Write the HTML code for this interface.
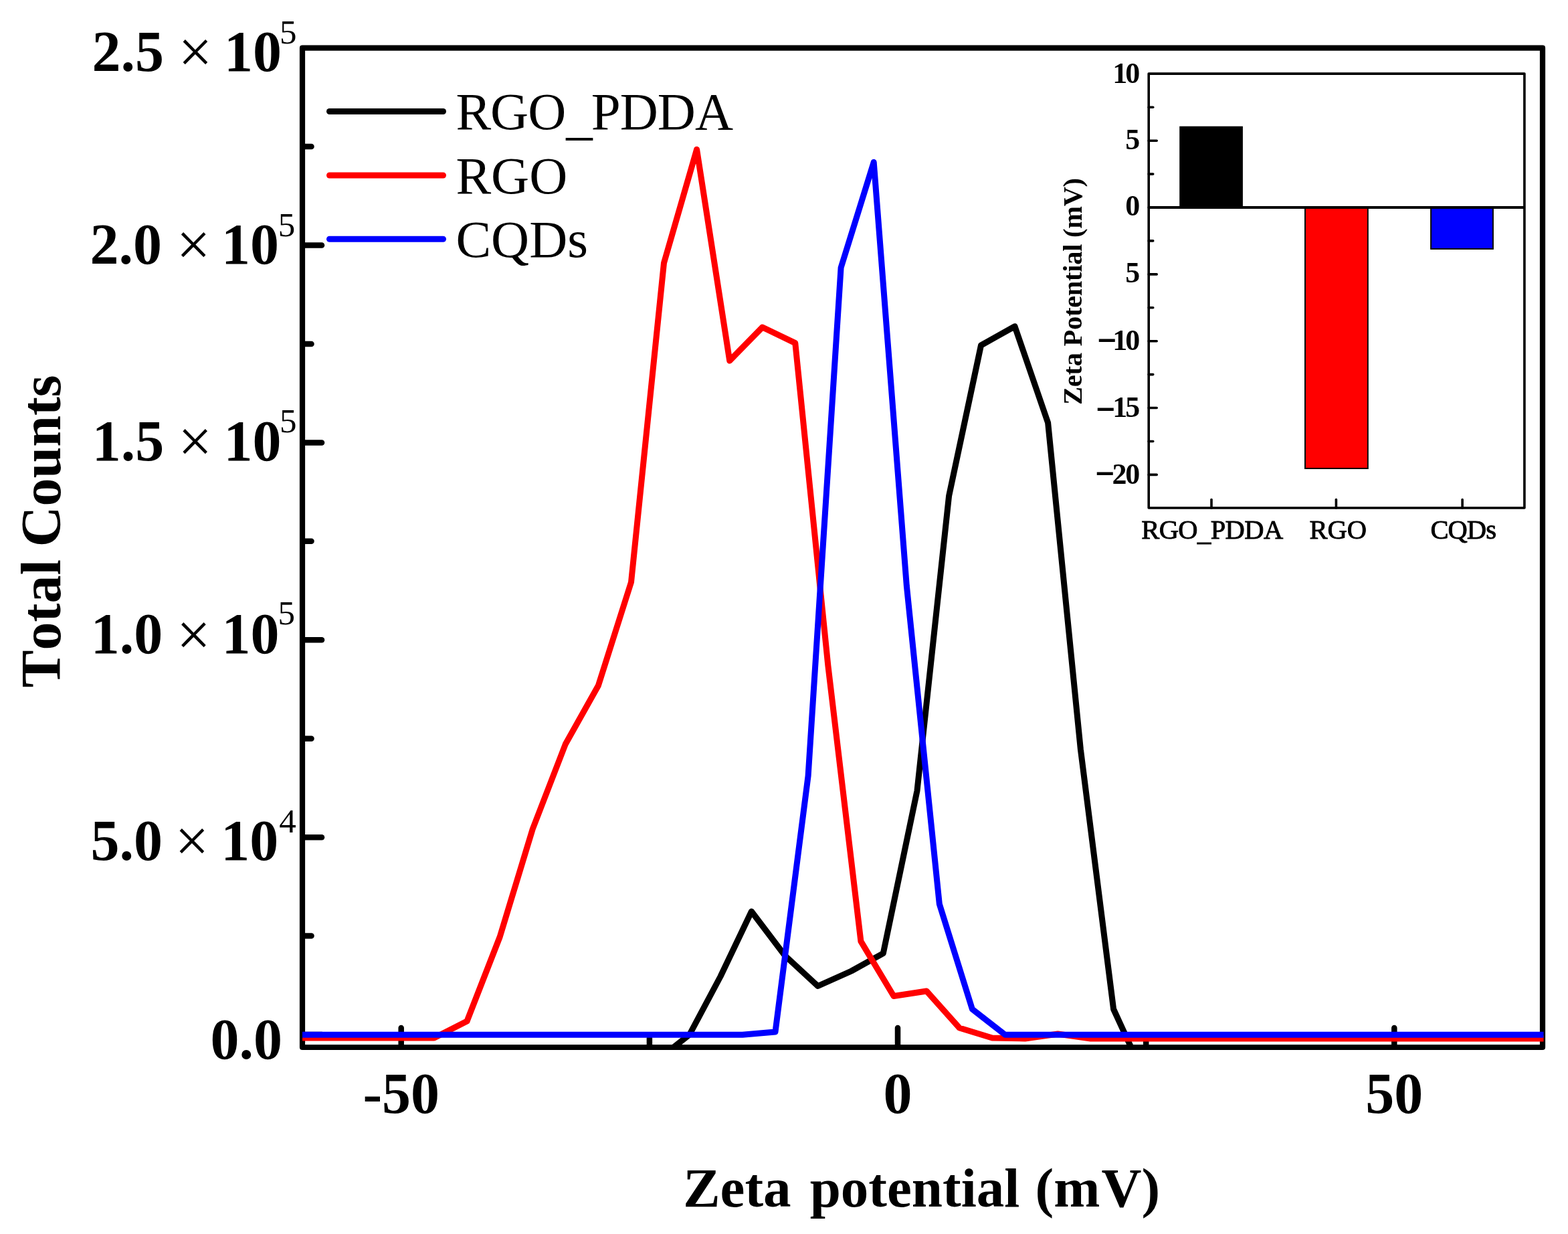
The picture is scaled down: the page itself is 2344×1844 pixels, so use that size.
<!DOCTYPE html>
<html><head><meta charset="utf-8"><title>Zeta potential</title>
<style>
html,body{margin:0;padding:0;background:#fff;overflow:hidden;}
svg{display:block;}
text{font-family:"Liberation Serif","Times New Roman",serif;fill:#000;font-kerning:none;}
.b{font-weight:bold;}
</style></head><body>
<svg width="2344" height="1844" viewBox="0 0 2344 1844">
<rect x="0" y="0" width="2344" height="1844" fill="#fff"/>
<defs><clipPath id="pc"><rect x="452" y="71.7" width="1855.5" height="1493.3"/></clipPath></defs>
<rect x="452" y="71.7" width="1854" height="1493.3" fill="none" stroke="#000" stroke-width="8.2" stroke-linejoin="round"/>
<g stroke="#000" stroke-width="8.5" stroke-linecap="round"><line x1="453" y1="1546.1" x2="481" y2="1546.1"/><line x1="453" y1="1398.6" x2="465.5" y2="1398.6"/><line x1="453" y1="1251.2" x2="481" y2="1251.2"/><line x1="453" y1="1103.8" x2="465.5" y2="1103.8"/><line x1="453" y1="956.3" x2="481" y2="956.3"/><line x1="453" y1="808.8" x2="465.5" y2="808.8"/><line x1="453" y1="661.4" x2="481" y2="661.4"/><line x1="453" y1="514.0" x2="465.5" y2="514.0"/><line x1="453" y1="366.5" x2="481" y2="366.5"/><line x1="453" y1="219.0" x2="465.5" y2="219.0"/><line x1="599.7" y1="1564" x2="599.7" y2="1536"/><line x1="1342.0" y1="1564" x2="1342.0" y2="1536"/><line x1="2084.3" y1="1564" x2="2084.3" y2="1536"/><line x1="970.9" y1="1564" x2="970.9" y2="1551.5"/><line x1="1713.2" y1="1564" x2="1713.2" y2="1551.5"/></g>
<g clip-path="url(#pc)" fill="none" stroke-width="9" stroke-linejoin="round">
<polyline stroke="#000" points="981.6,1585.0 1030.8,1546.0 1077.1,1459.0 1123.4,1362.0 1173.4,1428.0 1222.6,1473.5 1272.8,1451.0 1320.3,1424.6 1371.0,1181.6 1418.6,741.0 1466.5,516.0 1517.0,487.7 1566.6,631.8 1615.4,1120.0 1664.6,1508.0 1713.8,1615.0"/>
<polyline stroke="#f00" points="430.0,1551.0 649.0,1551.0 698.1,1526.0 747.2,1400.0 796.2,1239.0 845.3,1112.0 894.4,1024.5 943.5,870.0 992.5,393.0 1041.6,223.3 1090.7,539.0 1139.7,489.0 1188.8,512.6 1237.9,995.0 1286.9,1406.6 1336.0,1488.5 1385.1,1481.0 1434.2,1536.0 1483.2,1551.0 1532.3,1552.0 1581.4,1545.0 1630.4,1552.0 2330.0,1552.0"/>
<polyline stroke="#00f" points="430.0,1546.3 1109.9,1546.3 1159.0,1542.0 1208.1,1159.5 1257.1,400.0 1306.2,242.3 1355.3,875.0 1404.3,1350.8 1453.4,1508.0 1502.5,1546.3 2330.0,1546.3"/>
</g>
<text class="b" x="137.4" y="106.1" font-size="86">2.5</text><text x="266.5" y="107.9" font-size="90">×</text><text class="b" x="335.0" y="106.1" font-size="86">10</text><text x="418.0" y="65.0" font-size="51">5</text>
<text class="b" x="134.6" y="393.8" font-size="86">2.0</text><text x="263.8" y="395.6" font-size="90">×</text><text class="b" x="330.9" y="393.8" font-size="86">10</text><text x="415.7" y="352.7" font-size="51">5</text>
<text class="b" x="137.7" y="687.6" font-size="86">1.5</text><text x="266.3" y="689.6" font-size="90">×</text><text class="b" x="334.4" y="687.6" font-size="86">10</text><text x="417.9" y="646.3" font-size="51">5</text>
<text class="b" x="135.8" y="976.1" font-size="86">1.0</text><text x="263.9" y="978.5" font-size="90">×</text><text class="b" x="331.4" y="976.1" font-size="86">10</text><text x="415.6" y="933.2" font-size="51">5</text>
<text class="b" x="135.4" y="1284.7" font-size="86">5.0</text><text x="261.5" y="1286.6" font-size="90">×</text><text class="b" x="330.2" y="1284.7" font-size="86">10</text><text x="417.2" y="1243.6" font-size="51">4</text>
<text class="b" x="314.4" y="1582.1" font-size="86">0.0</text>
<text class="b" x="599.7" y="1663.1" font-size="86" text-anchor="middle">-50</text>
<text class="b" x="1342.0" y="1663.1" font-size="86" text-anchor="middle">0</text>
<text class="b" x="2084.3" y="1663.1" font-size="86" text-anchor="middle">50</text>
<text class="b" x="1021.2" y="1803" font-size="83">Zeta</text>
<text class="b" x="1210.7" y="1803" font-size="83">potential</text>
<text class="b" x="1547.6" y="1803" font-size="83">(m</text>
<text class="b" x="1646.6" y="1803" font-size="83">V)</text>
<text class="b" transform="translate(89.9,1027.5) rotate(-90)" x="0" y="0" font-size="84">Total</text>
<text class="b" transform="translate(89.9,817.2) rotate(-90)" x="0" y="0" font-size="84">Counts</text>
<line x1="492.5" y1="166.5" x2="662.5" y2="166.5" stroke="#000" stroke-width="9" stroke-linecap="round"/><text x="681.4" y="193.4" font-size="79" textLength="414.6" lengthAdjust="spacing">RGO<tspan dy="6.5" dx="1">_</tspan><tspan dy="-6.5" dx="-1">PDDA</tspan></text>
<line x1="492.5" y1="262" x2="662.5" y2="262" stroke="#f00" stroke-width="9" stroke-linecap="round"/><text x="681.4" y="289.2" font-size="79">RGO</text>
<line x1="492.5" y1="357.2" x2="662.5" y2="357.2" stroke="#00f" stroke-width="9" stroke-linecap="round"/><text x="681.4" y="384" font-size="79">CQDs</text>
<rect x="1764.2" y="189.7" width="92.7" height="121.3" fill="#000" stroke="#000" stroke-width="2"/>
<rect x="1951.0" y="309.0" width="93.8" height="391.0" fill="#f00" stroke="#000" stroke-width="2"/>
<rect x="2139.1" y="309.0" width="92.8" height="62.9" fill="#00f" stroke="#000" stroke-width="2"/>
<line x1="1717.2" y1="310.0" x2="2278.9" y2="310.0" stroke="#000" stroke-width="4"/>
<rect x="1717.2" y="110.1" width="561.7" height="648.9" fill="none" stroke="#000" stroke-width="3.6" stroke-linejoin="round"/>
<g stroke="#000" stroke-width="3.6" stroke-linecap="round"><line x1="1717.2" y1="709.4" x2="1729.2" y2="709.4"/><line x1="1717.2" y1="659.5" x2="1723.7" y2="659.5"/><line x1="1717.2" y1="609.5" x2="1729.2" y2="609.5"/><line x1="1717.2" y1="559.6" x2="1723.7" y2="559.6"/><line x1="1717.2" y1="509.7" x2="1729.2" y2="509.7"/><line x1="1717.2" y1="459.8" x2="1723.7" y2="459.8"/><line x1="1717.2" y1="409.9" x2="1729.2" y2="409.9"/><line x1="1717.2" y1="359.9" x2="1723.7" y2="359.9"/><line x1="1717.2" y1="310.0" x2="1729.2" y2="310.0"/><line x1="1717.2" y1="260.1" x2="1723.7" y2="260.1"/><line x1="1717.2" y1="210.2" x2="1729.2" y2="210.2"/><line x1="1717.2" y1="160.2" x2="1723.7" y2="160.2"/><line x1="1811.0" y1="759.0" x2="1811.0" y2="746.5"/><line x1="1997.4" y1="759.0" x2="1997.4" y2="746.5"/><line x1="2186.1" y1="759.0" x2="2186.1" y2="746.5"/></g>
<text class="b" x="1663.3 1682.2" y="123.6" font-size="44">10</text>
<text class="b" x="1682.2" y="223.3" font-size="44">5</text>
<text class="b" x="1682.2" y="322.0" font-size="44">0</text>
<text class="b" x="1682.2" y="421.8" font-size="44">5</text>
<text class="b" x="1663.3 1682.2" y="523.1" font-size="44">10</text><text class="b" x="1640.9" y="525.1" font-size="49" stroke="#000" stroke-width="1.2">−</text>
<text class="b" x="1663.3 1682.2" y="622.8" font-size="44">15</text><text class="b" x="1639.0" y="627.7" font-size="49" stroke="#000" stroke-width="1.2">−</text>
<text class="b" x="1662.6 1682.2" y="722.6" font-size="44">20</text><text class="b" x="1638.0" y="724.3" font-size="49" stroke="#000" stroke-width="1.2">−</text>
<text x="1812.2" y="804.8" font-size="40.5" text-anchor="middle" stroke="#000" stroke-width="0.9" textLength="212" lengthAdjust="spacing">RGO<tspan dy="3.5">_</tspan><tspan dy="-3.5">PDDA</tspan></text>
<text x="2000.2" y="804.8" font-size="40.5" text-anchor="middle" stroke="#000" stroke-width="0.9">RGO</text>
<text x="2187.7" y="804.8" font-size="40.5" text-anchor="middle" stroke="#000" stroke-width="0.9" textLength="98.5" lengthAdjust="spacing">CQDs</text>
<text class="b" transform="translate(1617.4,604.9) rotate(-90)" x="0" y="0" font-size="40.5" textLength="339" lengthAdjust="spacing">Zeta Potential (mV)</text>
</svg>
</body></html>
